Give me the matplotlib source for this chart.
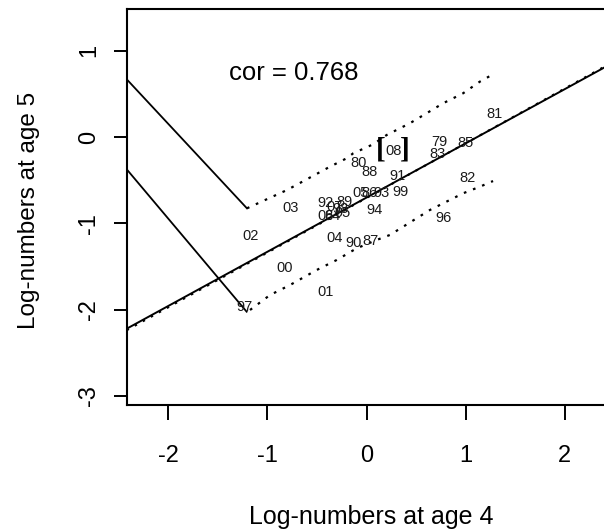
import matplotlib
matplotlib.use("Agg")
import matplotlib.pyplot as plt

plt.rcParams["font.family"] = ["Liberation Sans", "DejaVu Sans"]

# year labels with log-numbers at age 4 (x) and age 5 (y)
years = ["79", "80", "81", "82", "83", "84", "85", "86", "87", "88",
         "89", "90", "91", "92", "93", "94", "95", "96", "97", "98",
         "99", "00", "01", "02", "03", "04", "05", "06", "07", "08"]
age4 = [0.732, -0.078, 1.286, 1.014, 0.712, -0.340, 0.998, 0.033, 0.043, 0.026,
        -0.219, -0.135, 0.308, -0.410, 0.154, 0.084, -0.239, 0.772, -1.227, -0.259,
        0.346, -0.824, -0.410, -1.166, -0.766, -0.327, -0.057, -0.410, -0.320, 0.268]
age5 = [-0.053, -0.304, 0.268, -0.470, -0.196, -0.914, -0.072, -0.648, -1.204, -0.401,
        -0.752, -1.224, -0.447, -0.764, -0.648, -0.845, -0.879, -0.934, -1.972, -0.833,
        -0.633, -1.517, -1.791, -1.146, -0.822, -1.166, -0.648, -0.914, -0.810, -0.161]
highlight = "08"
cor = 0.768

# regression lines
fit_intercept, fit_slope = -0.700, 0.628
alt_intercept, alt_slope = -0.704, 0.6336

# prediction band
upper_x = [-1.207, -0.803, -0.370, -0.202, -0.135, 0.067, 0.202, 0.436, 0.605, 0.772, 0.974, 1.142, 1.276]
upper_y = [-0.825, -0.613, -0.343, -0.246, -0.188, -0.083, 0.024, 0.160, 0.276, 0.392, 0.508, 0.642, 0.728]
lower_x = [-1.176, -0.975, -0.773, -0.504, -0.302, -0.101, 0.101, 0.235, 0.369, 0.638, 0.974, 1.142, 1.276]
lower_y = [-2.003, -1.830, -1.714, -1.540, -1.424, -1.289, -1.192, -1.134, -1.038, -0.845, -0.651, -0.575, -0.509]

# arms joining band start to the left edge
arm_upper_x = [-2.42, -1.207]
arm_upper_y = [0.670, -0.825]
arm_lower_x = [-2.42, -1.21]
arm_lower_y = [-0.373, -2.023]

DOTS = (0, (1.2, 3.2))


def main():
    fig = plt.figure(figsize=(6.04, 5.32), dpi=100)
    ax = fig.add_axes([0.2098, 0.2387, 0.809, 0.7453])
    ax.set_xlim(-2.42, 2.51)
    ax.set_ylim(-3.104, 1.49)

    ax.axline((0, fit_intercept), slope=fit_slope, color="black", lw=1.4)
    ax.axline((0, alt_intercept), slope=alt_slope, color="black", lw=1.5, linestyle=DOTS)

    ax.plot(upper_x, upper_y, color="black", lw=1.6, linestyle=DOTS)
    ax.plot(lower_x, lower_y, color="black", lw=1.6, linestyle=DOTS)
    ax.plot(arm_upper_x, arm_upper_y, color="black", lw=1.3)
    ax.plot(arm_lower_x, arm_lower_y, color="black", lw=1.3)

    for lab, x, y in zip(years, age4, age5):
        ax.text(x, y, lab, ha="center", va="center", fontsize=10.5, color="#1a1a1a")
        if lab == highlight:
            # bold brackets around the highlighted year
            for br, dx in (("[", -8.6), ("]", 8.6)):
                ax.annotate(br, xy=(x, y), xytext=(dx, 0.8), textcoords="offset points",
                            ha="center", va="center", fontsize=21, fontweight="bold",
                            family="Liberation Serif")

    ax.text(-0.73, 0.739, f"cor = {cor}", ha="center", va="center", fontsize=18.5)

    ax.set_xticks([-2, -1, 0, 1, 2])
    ax.set_yticks([-3, -2, -1, 0, 1])
    ax.set_xticklabels(["-2", "-1", "0", "1", "2"])
    ax.set_yticklabels(["-3", "-2", "-1", "0", "1"], rotation=90, va="center")
    ax.tick_params(axis="x", length=10.5, width=1.4, pad=18, labelsize=17)
    ax.tick_params(axis="y", length=9.7, width=1.4, pad=9.5, labelsize=17)

    for s in ax.spines.values():
        s.set_linewidth(1.5)

    ax.set_xlabel("Log-numbers at age 4", fontsize=18, va="center")
    ax.xaxis.set_label_coords(0.5, -0.2817)
    ax.set_ylabel("Log-numbers at age 5", fontsize=17.5, va="center")
    ax.yaxis.set_label_coords(-0.201, 0.49)

    fig.savefig("out.png", dpi=100)
    plt.close(fig)


if __name__ == "__main__":
    main()
